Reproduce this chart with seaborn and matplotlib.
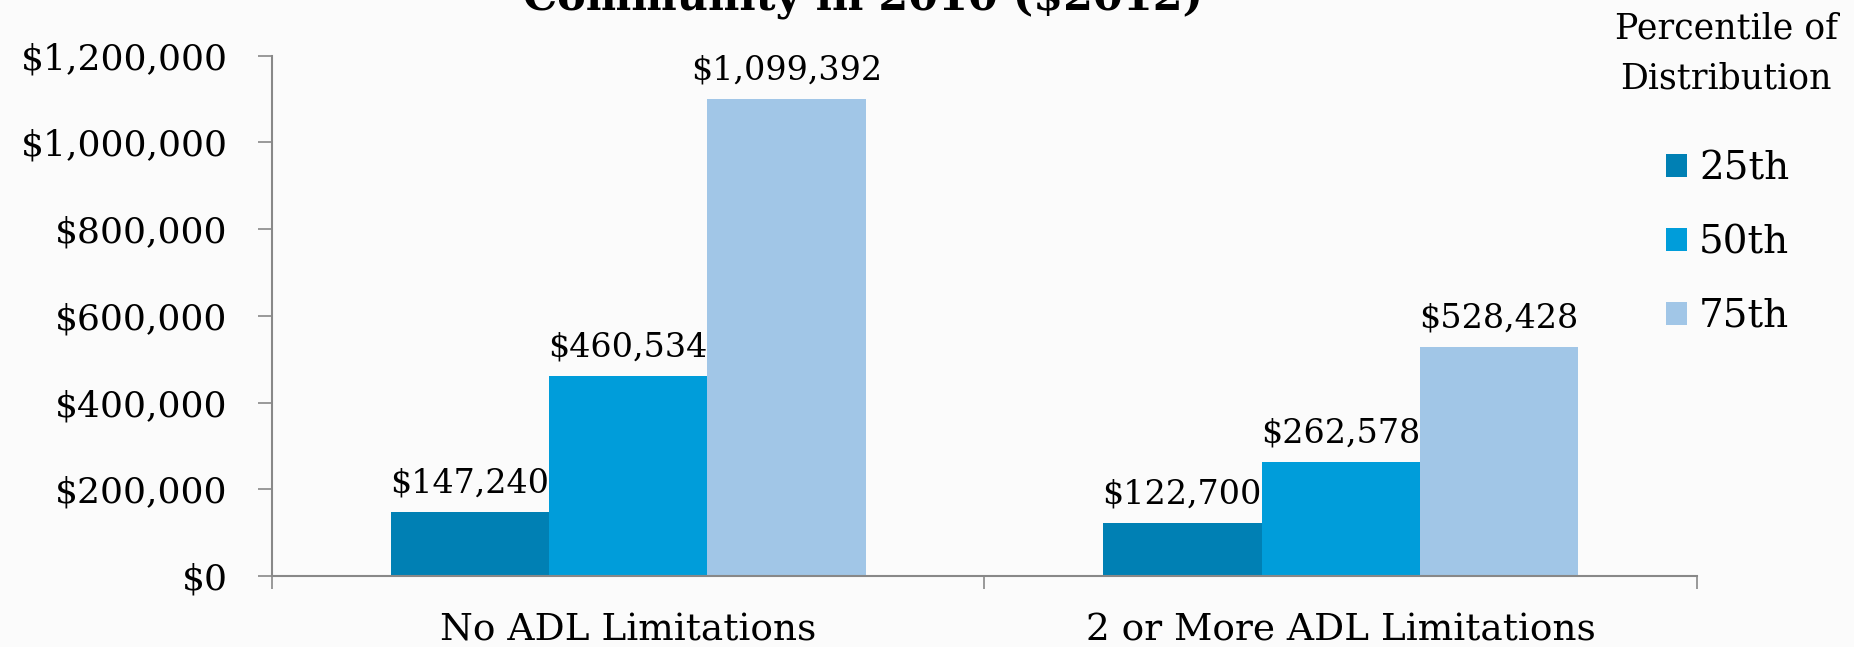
import seaborn as sns
import matplotlib.pyplot as plt
import pandas as pd

groups = ['No ADL Limitations', '2 or More ADL Limitations']
percentiles = ['25th', '50th', '75th']
p25 = [147240, 122700]
p50 = [460534, 262578]
p75 = [1099392, 528428]
colors = ['#0080B4', '#009DDA', '#A1C6E7']

rows = []
for i, g in enumerate(groups):
    for p, vals in zip(percentiles, [p25, p50, p75]):
        rows.append({'group': g, 'pct': p, 'value': vals[i]})
df = pd.DataFrame(rows)

sns.set_style('white')
plt.rcParams['font.family'] = ['DejaVu Serif']
plt.rcParams['text.color'] = 'black'
plt.rcParams['xtick.color'] = 'black'
plt.rcParams['ytick.color'] = 'black'

fig = plt.figure(figsize=(18.54, 6.47), dpi=100)
fig.patch.set_facecolor('#FBFBFB')
ax = fig.add_axes([0.1467, 0.1097, 0.9153 - 0.1467, 0.914 - 0.1097])
ax.set_facecolor('#FBFBFB')

sns.barplot(data=df, x='group', y='value', hue='pct', hue_order=percentiles,
            palette=colors, width=0.667, linewidth=0, saturation=1, ax=ax)

for cont, vals in zip(ax.containers, [p25, p50, p75]):
    ax.bar_label(cont, labels=[f'${v:,.0f}' for v in vals], padding=9, fontsize=24)

ax.set_ylim(0, 1200000)
ax.set_xlim(-0.5, 1.5)
ax.set_yticks(range(0, 1200001, 200000))
ax.set_yticklabels([f'${v:,.0f}' for v in range(0, 1200001, 200000)], fontsize=26)
ax.tick_params(axis='y', length=10, color='#888888', width=1.2, pad=22, left=True)
ax.set_xticks([0, 1])
ax.set_xticklabels(groups, fontsize=27)
ax.set_xticks([-0.5, 0.5, 1.5], minor=True)
ax.tick_params(axis='x', which='major', length=0, pad=26)
ax.tick_params(axis='x', which='minor', length=9, color='#888888', width=1.2, bottom=True)
ax.set_xlabel('')
ax.set_ylabel('')
sns.despine(ax=ax)
for s in ['left', 'bottom']:
    ax.spines[s].set_color('#888888')
    ax.spines[s].set_linewidth(1.5)

handles, labels = ax.get_legend_handles_labels()
ax.get_legend().remove()
fig.legend(handles, labels, loc='upper left',
           bbox_to_anchor=(0.8986, 0.768), frameon=False, fontsize=28,
           handlelength=0.55, handleheight=0.55, labelspacing=0.95, handletextpad=0.3,
           borderpad=0, borderaxespad=0)
fig.text(0.931, 0.956, 'Percentile of', ha='center', va='center', fontsize=25)
fig.text(0.931, 0.879, 'Distribution', ha='center', va='center', fontsize=25)

fig.text(0.4655, 0.986, 'Community in 2010 ($2012)', ha='center', va='baseline',
         fontsize=31, fontweight='bold')

fig.savefig('out.png', dpi=100, facecolor=fig.get_facecolor())
